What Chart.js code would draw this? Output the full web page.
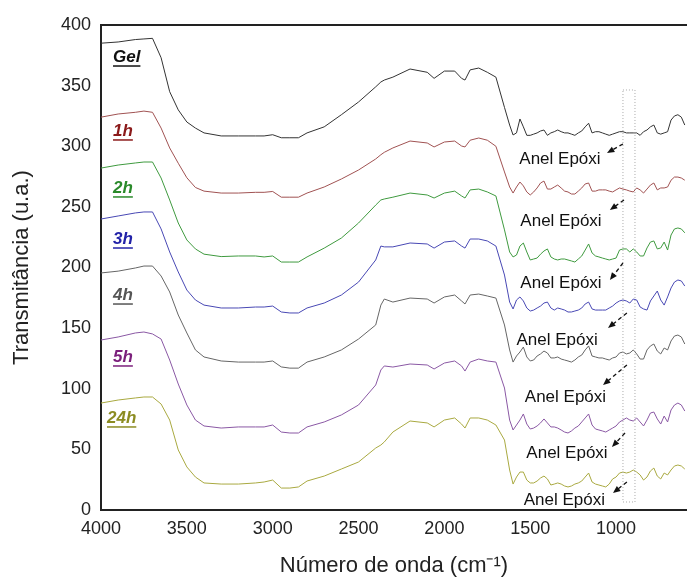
<!DOCTYPE html>
<html>
<head>
<meta charset="utf-8">
<script src="https://cdn.jsdelivr.net/npm/chart.js@4.4.1/dist/chart.umd.min.js"></script>
<style>
  html, body { margin: 0; padding: 0; background: #fff; }
  #wrap { width: 687px; height: 578px; position: relative; }
</style>
</head>
<body>
<div id="wrap"><canvas id="ftirChart"></canvas></div>
<script>
// --- Data ---
const wavenumbers = [4000,3900,3800,3750,3700,3650,3600,3550,3500,3450,3400,3300,3200,3100,3050,3000,2950,2900,2850,2800,
  2700,2600,2500,2400,2370,2350,2300,2200,2100,2060,2000,1940,1900,1880,1850,1800,1750,1700,1650,1620,1600,
  1580,1560,1540,1520,1500,1480,1460,1440,1420,1400,1380,1360,1340,1320,1300,1280,1260,1240,1220,1200,
  1180,1160,1140,1120,1100,1080,1060,1040,1020,1000,980,960,940,920,900,880,860,840,820,800,
  780,760,740,720,700,680,660,640,620,600];

const gel = [385,386,388,388.5,389,373,345,330,320,315,311,308.5,308.5,308.5,308.5,309.5,307,307,307,311,
  316,326,336.5,349,353,354.6,357,363.7,361,356,362,362,356,354.6,363,364.5,361,357,332,317.5,309.3,
  311,322.5,316,309,309,310,311,312.6,313.4,309,311,312,313.4,312,311,311,310,309,311,312.6,
  316,319,311,312,312,311,310,309,310,311,312,312,311,311,311,311,309,312,313.4,316,
  317.5,311,310,311,312,321.6,325,326,324,317.5];

const h1 = [324,326.6,328,329,328,315,298.6,286,274,266,263,261.4,261.4,262,262,262.7,258,258,258,261.4,
  266.4,273,280.4,289.5,293,295,298.6,304.3,302.7,299.4,303.5,304.3,300.2,299.4,305,306.8,305,300,278.8,266.4,261.4,
  266.4,270.5,267.3,262.3,259.8,262.3,265.6,269.7,271.3,264.7,264.7,266.4,268,265.6,263,262.3,260.6,260.6,263,265.6,
  268.9,269.7,263,263,264,264,264,263,262.3,264,265.6,264.7,264,263,262.3,265.6,264,261.4,264.7,268,
  269.7,264,265.6,265.6,266.4,272,274.6,274.6,273.8,272];

const h2 = [282,284.5,286.2,287,287,273.8,255.7,236.7,222.7,215.3,211,209,209.5,209.5,208.7,209.5,204.5,204.5,204.5,208.7,
  216,224.3,236.7,251.5,255.7,256.5,258,261.4,259.8,257.3,261.4,263,259,257.3,264,264.7,262.3,259,231,212.8,208.7,
  210.3,217.7,220.2,212.8,206.2,207,207.8,211,213.6,215.3,208.7,207,206.2,207,207,206.2,205.4,204.5,207,209.5,
  214.4,219.4,212,209.5,208.7,207.8,207,206.2,207,207.8,214.4,215.3,215.3,212.8,215.3,212.8,209.5,209.5,216.1,221,
  221.9,215.3,216.1,221,214.4,226.8,231.8,232.6,231.8,228.6];

const h3 = [240,242.5,245,245.8,245.8,231.8,212.8,196.3,181.4,173.2,169,166.6,166.6,167.4,167.4,168.2,163.3,162.5,162.5,166.6,
  170.7,177.3,188,206.2,217.7,217,217,220.2,219.4,216,221,221.9,217.7,216,223.5,223.5,221.9,217.7,193.8,171.5,165.8,
  173.2,175.7,172.4,166.6,164.1,164.9,166.6,168.2,170.7,171.5,166.6,164.9,166.6,165.8,164.9,163.3,163.3,164.1,164.9,166.6,
  169.9,171.5,165.8,164.9,164.9,164.9,164.9,166.6,168.2,170.7,172.4,173.2,172.4,170.7,174,173.2,167.4,165.8,164.9,172.4,
  176.5,180.6,173.2,169,175.7,183.1,188,189.7,188.9,184.7];

const h4 = [195.5,197,199.6,201.2,201.2,193,179.8,160.8,146,132,126.2,122.9,122,122,122,122.9,118,117,117,122,
  126.2,132,141,152.6,169,174,171.5,174.8,174,170.7,175.7,177.3,172.4,169.9,177.3,178.1,176.5,174.8,152.6,132,122,
  127,130.3,134.4,126.2,122.9,123.7,127,128.7,131.1,129.5,125.4,125.4,126.2,124.5,123.7,122.9,122,123.7,126.2,127.8,
  132,135.3,127,126.2,125.4,125.4,124.5,123.7,125.4,126.2,129.5,130.3,128.7,129.5,132,128.7,124.5,124.5,132,135.3,
  136.9,131.1,128.7,133.6,132,139.4,143.5,144.3,142.7,136.9];

const h5 = [140.2,142.7,146,146.8,145.2,141,123.7,103.9,86.6,74.2,69.3,67.6,68.5,68.5,68.5,70.1,64.3,63.5,63.5,68.5,
  72.6,78.4,86.6,103.1,115.5,118.8,117.9,120.4,119.6,116.3,121.2,122.9,118.8,114.6,122,124.5,122.9,122,100.6,74.2,66,
  70.1,74.2,79.2,70.9,66.8,67.6,69.3,71.8,75.1,71.8,68.5,68.5,67.6,66,64.3,63.5,65.2,67.6,69.3,72.6,
  75.9,79.2,70.1,66.8,66,65.2,64.3,66,67.6,69.3,72.6,74.2,75.9,74.2,73.4,75.9,72.6,69.3,74.2,80,
  80.8,75.1,70.9,77.5,72.6,82.5,86.6,88.2,86.6,81.6];

const h24 = [88.2,90.7,92.4,93.2,93.2,87.4,74.2,49.5,35.5,27.2,22.3,21.4,21.4,22.3,23.1,24.7,18.1,18.1,19,23.9,
  28,33.8,39.6,51.1,53.6,56.1,64.3,73.4,71.8,68.5,74.2,75.9,70.9,67.6,75.9,75.9,74.2,70.1,57.7,33,21.4,
  27.2,31.3,31.3,24.7,22.3,22.3,23.9,26.4,28,25.6,20.6,21.4,22.3,21.4,19.8,19,19.8,21.4,22.3,23.9,
  27.2,30.5,23.1,21.4,20.6,19.8,19,21.4,25.6,27.2,30.5,31.3,30.5,31.3,33,31.3,28.9,24.7,27.2,32.2,
  34.6,28,25.6,30.5,28.9,33,36.3,37.1,36.3,33.8];

const seriesNames = ['Gel', '1h', '2h', '3h', '4h', '5h', '24h'];
const seriesValues = [gel, h1, h2, h3, h4, h5, h24];
const xTickValues = [4000, 3500, 3000, 2500, 2000, 1500, 1000];

// --- Looks ---
const lineColors  = ['#333333', '#a05252', '#3f9a3f', '#4848b4', '#666666', '#8a58a4', '#a9a940'];
const labelColors = ['#111111', '#8b1a1a', '#2a8a2a', '#2222a8', '#555555', '#7b1f7b', '#8c8c22'];
// label anchor (left edge wavenumber, transmittance) for each series name
const labelPos = [[3930, 373.6], [3930, 312.6], [3930, 265.6], [3930, 223.5], [3930, 177.3], [3930, 126.2], [3965, 75.9]];
// "Anel Epóxi" text centres and dashed arrows [tailX, tailY, headX, headY]
const epoxiText = [[1327, 289.5], [1321, 238.4], [1321, 187.2], [1344, 140.2], [1295, 93.2], [1286, 47], [1301, 8.2]];
const epoxiArrows = [
  [960, 301.9, 1053, 294.4], [954, 255.7, 1036, 247.4], [960, 203.7, 1036, 189.7],
  [937, 162.5, 1047, 150.1], [937, 119.6, 1076, 103.1], [948, 63.5, 1024, 52], [937, 23.1, 1018, 14]
];
const epoxiBox = [960, 890, 346.4, 6.6]; // x1, x2, yTop, yBottom

const FONT = 'Arial, "Liberation Sans", sans-serif';

const annotations = {
  id: 'annotations',
  afterDatasetsDraw(chart) {
    const { ctx, chartArea, scales: { x, y } } = chart;
    ctx.save();

    // top frame line
    ctx.strokeStyle = '#222';
    ctx.lineWidth = 2;
    ctx.beginPath();
    ctx.moveTo(chartArea.left - 1, chartArea.top);
    ctx.lineTo(chartArea.right, chartArea.top);
    ctx.stroke();

    // dotted box around the epoxy band
    ctx.strokeStyle = '#aaaaaa';
    ctx.lineWidth = 1;
    ctx.setLineDash([1, 2]);
    const bx1 = x.getPixelForValue(epoxiBox[0]), bx2 = x.getPixelForValue(epoxiBox[1]);
    const by1 = y.getPixelForValue(epoxiBox[2]), by2 = y.getPixelForValue(epoxiBox[3]);
    ctx.strokeRect(bx1, by1, bx2 - bx1, by2 - by1);

    // series labels (bold italic, underlined)
    ctx.setLineDash([]);
    ctx.font = 'italic bold 17px ' + FONT;
    ctx.textBaseline = 'middle';
    ctx.textAlign = 'left';
    seriesNames.forEach((name, i) => {
      const px = x.getPixelForValue(labelPos[i][0]);
      const py = y.getPixelForValue(labelPos[i][1]);
      ctx.fillStyle = labelColors[i];
      ctx.fillText(name, px, py);
      const w = ctx.measureText(name).width;
      ctx.strokeStyle = labelColors[i];
      ctx.lineWidth = 1.5;
      ctx.beginPath();
      ctx.moveTo(px, py + 9);
      ctx.lineTo(px + w, py + 9);
      ctx.stroke();
    });

    // Anel Epóxi texts
    ctx.font = '17px ' + FONT;
    ctx.fillStyle = '#111';
    ctx.textAlign = 'center';
    epoxiText.forEach(p => {
      ctx.fillText('Anel Epóxi', x.getPixelForValue(p[0]), y.getPixelForValue(p[1]));
    });

    // dashed arrows
    epoxiArrows.forEach(a => {
      const x1 = x.getPixelForValue(a[0]), y1 = y.getPixelForValue(a[1]);
      const x2 = x.getPixelForValue(a[2]), y2 = y.getPixelForValue(a[3]);
      const ang = Math.atan2(y2 - y1, x2 - x1);
      ctx.strokeStyle = '#111';
      ctx.lineWidth = 1.3;
      ctx.setLineDash([4, 3]);
      ctx.beginPath();
      ctx.moveTo(x1, y1);
      ctx.lineTo(x2 - 4 * Math.cos(ang), y2 - 4 * Math.sin(ang));
      ctx.stroke();
      ctx.setLineDash([]);
      ctx.fillStyle = '#111';
      ctx.beginPath();
      ctx.moveTo(x2, y2);
      ctx.lineTo(x2 - 8 * Math.cos(ang - 0.4), y2 - 8 * Math.sin(ang - 0.4));
      ctx.lineTo(x2 - 8 * Math.cos(ang + 0.4), y2 - 8 * Math.sin(ang + 0.4));
      ctx.closePath();
      ctx.fill();
    });

    ctx.restore();
  }
};

const datasets = seriesNames.map((name, i) => ({
  label: name,
  data: wavenumbers.map((w, j) => ({ x: w, y: seriesValues[i][j] })),
  borderColor: lineColors[i],
  borderWidth: 1,
  pointRadius: 0,
  tension: 0,
  fill: false
}));

new Chart(document.getElementById('ftirChart'), {
  type: 'line',
  data: { datasets: datasets },
  options: {
    responsive: true,
    maintainAspectRatio: false,
    animation: false,
    layout: { padding: { top: 25, right: 0, left: 0, bottom: 0 } },
    plugins: { legend: { display: false }, tooltip: { enabled: false } },
    scales: {
      x: {
        type: 'linear',
        reverse: true,
        min: 587,
        max: 4000,
        afterBuildTicks: scale => { scale.ticks = xTickValues.map(v => ({ value: v })); },
        afterFit: scale => { scale.height = 68; },
        grid: { display: false, drawTicks: false },
        border: { display: true, color: '#222', width: 2 },
        ticks: {
          color: '#222', font: { size: 18, family: FONT }, padding: 8, maxRotation: 0,
          callback: v => String(v)
        },
        title: {
          display: true,
          text: 'Número de onda (cm⁻¹)',
          color: '#222',
          font: { size: 22, family: FONT, lineHeight: 1.0 },
          padding: { top: 0, bottom: 1 }
        }
      },
      y: {
        min: 0,
        max: 400,
        afterFit: scale => { scale.width = 101; },
        grid: { display: false, drawTicks: false },
        border: { display: true, color: '#222', width: 2 },
        ticks: { stepSize: 50, color: '#222', font: { size: 18, family: FONT }, padding: 10 },
        title: {
          display: true,
          text: 'Transmitância (u.a.)',
          color: '#222',
          font: { size: 22, family: FONT },
          padding: { top: 9, bottom: 0 }
        }
      }
    }
  },
  plugins: [annotations]
});
</script>
</body>
</html>
